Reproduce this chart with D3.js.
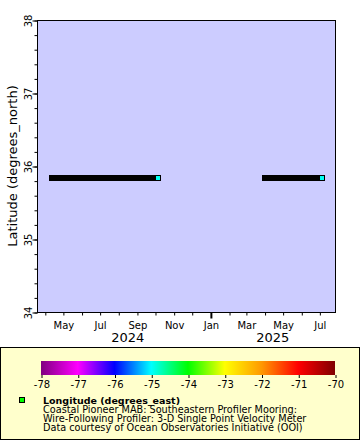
<!DOCTYPE html>
<html><head><meta charset="utf-8">
<script src="https://cdn.jsdelivr.net/npm/d3@7"></script>
<style>
html,body{margin:0;padding:0;background:#fff;}
svg{display:block;font-family:"DejaVu Sans",sans-serif;}
</style></head>
<body>
<svg id="chart" width="360" height="440"></svg>
<script>
// ---- data ----
const segStart = ["2024-04-13", "2025-04-01"];   // deployment first point
const segEnd   = ["2024-10-06", "2025-07-05"];   // deployment last point
const segLat   = [35.84, 35.84];                 // latitude (degrees_north)
const segLon   = [-74.95, -74.95];               // longitude of last point (degrees_east)
const yTicks   = [34, 35, 36, 37, 38];
const cTicks   = [-78, -77, -76, -75, -74, -73, -72, -71, -70];
const cColors  = ["#800080", "#ff00ff", "#0000ff", "#00ffff", "#00ff00", "#ffff00", "#ff9900", "#ff0000", "#800000"];
const yearLabels = ["2024", "2025"];
const legendTitle = "Longitude (degrees_east)";
const legendLines = [
  "Coastal Pioneer MAB: Southeastern Profiler Mooring:",
  "Wire-Following Profiler: 3-D Single Point Velocity Meter",
  "Data courtesy of Ocean Observatories Initiative (OOI)"
];
const yTitle = "Latitude (degrees_north)";

// ---- layout ----
const svg = d3.select("#chart");
const PX0 = 37, PX1 = 335, PY0 = 20, PY1 = 312;
const parse = d3.utcParse("%Y-%m-%d");
const x = d3.scaleUtc()
  .domain([parse("2024-03-19"), parse("2025-07-27")])
  .range([PX0, PX1]);
const y = d3.scaleLinear().domain([34, 38]).range([PY1, PY0]);
const cScale = d3.scaleLinear().domain(cTicks).range(cColors);

// plot background
svg.append("rect").attr("x", PX0 + 0.5).attr("y", PY0 + 0.5)
  .attr("width", PX1 - PX0).attr("height", PY1 - PY0)
  .attr("fill", "#ccccff").attr("stroke", "#000").attr("stroke-width", 1);

// y axis (major + minor ticks)
const minorY = d3.range(34, 38.001, 0.2).map(v => +v.toFixed(1));
const yAxisMinor = d3.axisLeft(y).tickValues(minorY).tickSize(3).tickFormat("");
const gYm = svg.append("g").attr("transform", `translate(${PX0 + 0.5},0.5)`).call(yAxisMinor);
const yAxis = d3.axisLeft(y).tickValues(yTicks).tickSize(5).tickFormat(d3.format("d"));
const gY = svg.append("g").attr("transform", `translate(${PX0 + 0.5},0.5)`).call(yAxis);
[gY, gYm].forEach(g => { g.select(".domain").remove(); g.selectAll("line").attr("stroke", "#000"); });
gY.selectAll("text")
  .attr("x", null).attr("dy", null)
  .attr("transform", "translate(-6,0) rotate(-90)")
  .attr("text-anchor", "middle")
  .attr("font-size", 10).attr("font-family", "DejaVu Sans").attr("fill", "#000");

// y title
svg.append("text")
  .attr("transform", `translate(17,${(PY0 + PY1) / 2}) rotate(-90)`)
  .attr("text-anchor", "middle").attr("font-size", 13).attr("fill", "#000")
  .text(yTitle);

// x axis
const months = d3.utcMonth.range(x.domain()[0], x.domain()[1]);
const xAxis = d3.axisBottom(x).tickValues(months).tickSize(3)
  .tickFormat(d => (d.getUTCMonth() % 2 === 0) ? d3.utcFormat("%b")(d) : "");
const gX = svg.append("g").attr("transform", `translate(0.5,${PY1 + 0.5})`).call(xAxis);
gX.select(".domain").remove();
gX.selectAll("line").attr("stroke", "#000");
gX.selectAll(".tick").filter(d => d.getUTCMonth() === 0).select("line")
  .attr("y2", 6).attr("stroke-width", 2);
gX.selectAll("text").attr("y", 9).attr("dy", "0.71em")
  .attr("font-size", 10).attr("font-family", "DejaVu Sans").attr("fill", "#000");

// year labels centred on the visible portion of each year
yearLabels.forEach((yr, i) => {
  const a = d3.max([x.domain()[0], parse(yr + "-01-01")]);
  const b = d3.min([x.domain()[1], parse((+yr + 1) + "-01-01")]);
  svg.append("text").attr("x", (x(a) + x(b)) / 2 + (i === 0 ? 4 : 0)).attr("y", 342)
    .attr("text-anchor", "middle").attr("font-size", 13).attr("fill", "#000")
    .text(yr);
});

// data track
const segs = segStart.map((s, i) => ({ s: parse(s), e: parse(segEnd[i]), lat: segLat[i], lon: segLon[i] }));
const gD = svg.append("g");
segs.forEach(d => {
  const xs = Math.round(x(d.s)), xe = Math.round(x(d.e)), yc = Math.round(y(d.lat));
  gD.append("rect").attr("x", xs - 3).attr("y", yc - 3)
    .attr("width", xe - xs + 6).attr("height", 6).attr("fill", "#000");
  gD.append("rect").attr("x", xe - 2.5).attr("y", yc - 2.5)
    .attr("width", 5).attr("height", 5)
    .attr("fill", cScale(d.lon)).attr("stroke", "#000").attr("stroke-width", 1);
});

// legend box
svg.append("rect").attr("x", 0.5).attr("y", 347.5).attr("width", 359).attr("height", 92)
  .attr("fill", "#ffffcc").attr("stroke", "#000").attr("stroke-width", 1);

// colour bar
const CB0 = 41, CB1 = 335, CBY = 361, CBH = 14;
const cbX = d3.scaleLinear().domain([cTicks[0], cTicks[cTicks.length - 1]]).range([CB0, CB1]);
const grad = svg.append("defs").append("linearGradient").attr("id", "cbgrad")
  .attr("x1", "0%").attr("x2", "100%").attr("y1", "0%").attr("y2", "0%");
cTicks.forEach((t, i) => {
  grad.append("stop").attr("offset", ((t - cTicks[0]) / (cTicks[cTicks.length - 1] - cTicks[0]) * 100) + "%")
    .attr("stop-color", cColors[i]);
});
svg.append("rect").attr("x", CB0).attr("y", CBY).attr("width", CB1 - CB0).attr("height", CBH)
  .attr("fill", "url(#cbgrad)");
const cAxis = d3.axisBottom(cbX).tickValues(cTicks).tickSize(3).tickFormat(d3.format("d"));
const gC = svg.append("g").attr("transform", `translate(0.5,${CBY + CBH})`).call(cAxis);
gC.select(".domain").remove();
gC.selectAll("line").attr("stroke", "#000");
gC.selectAll("text").attr("y", 6).attr("dy", "0.71em")
  .attr("font-size", 10).attr("font-family", "DejaVu Sans").attr("fill", "#000")
  .text(d => d3.format("d")(d).replace("−", "-"));

// legend marker & text
svg.append("rect").attr("x", 19.5).attr("y", 397.5).attr("width", 5).attr("height", 5)
  .attr("fill", cScale(-74)).attr("stroke", "#000").attr("stroke-width", 1);
svg.append("text").attr("x", 43).attr("y", 404).attr("font-size", 9.5)
  .attr("font-weight", "bold").attr("fill", "#000").text(legendTitle);
legendLines.forEach((t, i) => {
  svg.append("text").attr("x", 43).attr("y", 413 + i * 8.8).attr("font-size", 9.7)
    .attr("fill", "#000").text(t);
});
</script>
</body></html>
